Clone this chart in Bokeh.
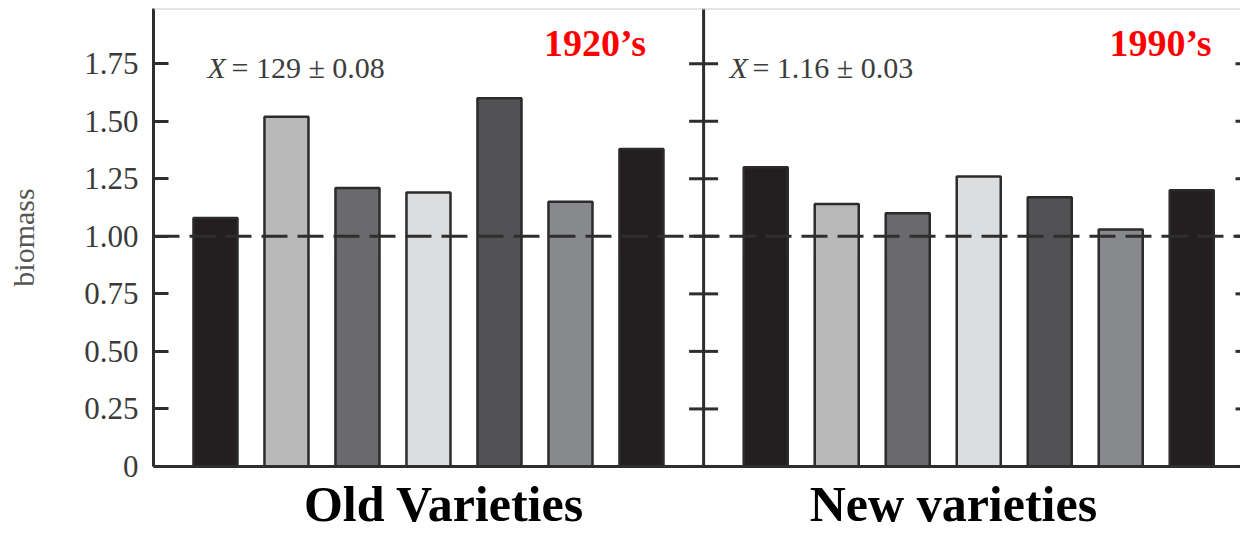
import math
from bokeh.plotting import figure
from bokeh.layouts import row
from bokeh.models import Range1d, FixedTicker, LinearAxis, Span, Label, ColumnDataSource
from bokeh.embed import file_html
from bokeh.resources import INLINE

# ---- data ----
variety_slots = [1, 2, 3, 4, 5, 6, 7]
old_biomass = [1.08, 1.52, 1.21, 1.19, 1.60, 1.15, 1.38]
new_biomass = [1.30, 1.14, 1.10, 1.26, 1.17, 1.03, 1.20]
bar_fills = ["#231f20", "#b9b9ba", "#6a6a6c", "#dcdddf", "#525254", "#88898c", "#231f20"]
tick_values = [0, 0.25, 0.5, 0.75, 1.0, 1.25, 1.5, 1.75]
tick_labels = ["0", "0.25", "0.50", "0.75", "1.00", "1.25", "1.50", "1.75"]
reference_level = 1.0
y_title = "biomass"
old_era, new_era = "1920\u2019s", "1990\u2019s"
old_mean = "= 129 \u00b1 0.08"
new_mean = "= 1.16 \u00b1 0.03"
old_group, new_group = "Old Varieties", "New varieties"

SERIF = "Liberation Serif"
INK = "#2e2e2e"
Y_TOP = 1.99
Y_FLOOR = -0.2913          # room under the baseline for the group captions
GROUP_SHIFT = 7.75         # the second panel sits to the right of the first
X_START, X_END = 0.127, 15.437
STRIP_W = 60               # narrow strip that carries the vertical axis title

old_x = list(variety_slots)
new_x = [s + GROUP_SHIFT for s in variety_slots]
divider_x = (old_x[-1] + new_x[0]) / 2

# ---- strip with the rotated axis title ----
strip = figure(width=STRIP_W, height=533, output_backend="svg", toolbar_location=None,
               x_range=Range1d(0, STRIP_W), y_range=Range1d(Y_FLOOR, Y_TOP),
               min_border_left=0, min_border_right=0, min_border_top=8, min_border_bottom=0,
               x_axis_location=None, y_axis_location=None)
strip.xgrid.visible = False
strip.ygrid.visible = False
strip.outline_line_color = None
strip.add_layout(Label(x=23, y=Y_TOP / 2, text=y_title, angle=math.pi / 2,
                       text_font=SERIF, text_font_size="30px", text_color="#555555",
                       text_align="center", text_baseline="middle"))

# ---- main chart ----
p = figure(width=1240 - STRIP_W, height=533, output_backend="svg", toolbar_location=None,
           x_range=Range1d(X_START, X_END), y_range=Range1d(Y_FLOOR, Y_TOP),
           min_border_left=153 - STRIP_W, min_border_right=0, min_border_top=8, min_border_bottom=0,
           x_axis_location=None, y_axis_location=None)
p.xgrid.visible = False
p.ygrid.visible = False
p.outline_line_color = None
p.background_fill_color = "white"
p.border_fill_color = "white"

# left value axis
ly = LinearAxis(ticker=FixedTicker(ticks=tick_values), bounds=(0, Y_TOP))
ly.major_label_overrides = {v: s for v, s in zip(tick_values, tick_labels)}
ly.axis_line_color = INK
ly.axis_line_width = 3
ly.major_tick_line_color = INK
ly.major_tick_line_width = 3
ly.major_tick_in = 15
ly.major_tick_out = 0
ly.minor_tick_in = 0
ly.minor_tick_out = 0
ly.major_label_text_font = SERIF
ly.major_label_text_font_size = "31px"
ly.major_label_text_color = "#3a3a3a"
ly.major_label_standoff = 15
p.add_layout(ly, "left")

# frame lines: faint top rule and heavy baseline
p.add_layout(Span(location=Y_TOP, dimension="width", line_color="#cccccc", line_width=2))
p.add_layout(Span(location=0, dimension="width", line_color=INK, line_width=3))

# bars
for xs, vals in ((old_x, old_biomass), (new_x, new_biomass)):
    src = ColumnDataSource(dict(x=xs, top=vals, fill=bar_fills))
    p.vbar(x="x", top="top", bottom=0, width=0.62, source=src,
           fill_color="fill", line_color="#2b2b2b", line_width=2.5)

# panel divider: an axis rule with ticks crossing it
p.segment(x0=[divider_x], y0=[0], x1=[divider_x], y1=[Y_TOP], line_color=INK, line_width=3)
p.scatter(x=[divider_x] * len(tick_values), y=tick_values, marker="dash", size=29,
          line_color=INK, line_width=3)

# short tick stubs along the right edge (half of each dash falls outside the frame)
p.scatter(x=[X_END] * len(tick_values), y=tick_values, marker="dash", size=10,
          line_color=INK, line_width=3)

# reference level
p.add_layout(Span(location=reference_level, dimension="width",
                  line_color=INK, line_width=3, line_dash="26 10"))


def panel_texts(x_sym, x_mean, era_x, group_x, mean_text, era_text, group_text):
    p.add_layout(Label(x=x_sym, y=1.735, text="X", text_font=SERIF, text_font_style="italic",
                       text_font_size="30px", text_color="#3d3d3d", text_baseline="alphabetic"))
    p.add_layout(Label(x=x_mean, y=1.735, text=mean_text, text_font=SERIF,
                       text_font_size="30px", text_color="#3d3d3d", text_baseline="alphabetic"))
    p.add_layout(Label(x=era_x, y=1.839, text=era_text, text_font=SERIF, text_font_style="bold",
                       text_font_size="38px", text_color="#ff0000", text_align="center",
                       text_baseline="alphabetic"))
    p.add_layout(Label(x=group_x, y=-0.163, text=group_text, text_font=SERIF, text_font_style="bold",
                       text_font_size="50px", text_color="black", text_align="center",
                       text_baseline="alphabetic"))


panel_texts(0.887, 1.225, 6.345, 4.218, old_mean, old_era, old_group)
panel_texts(8.239, 8.563, 14.31, 11.394, new_mean, new_era, new_group)

layout = row(strip, p, spacing=0)
open("out.html", "w").write(file_html(layout, INLINE))
